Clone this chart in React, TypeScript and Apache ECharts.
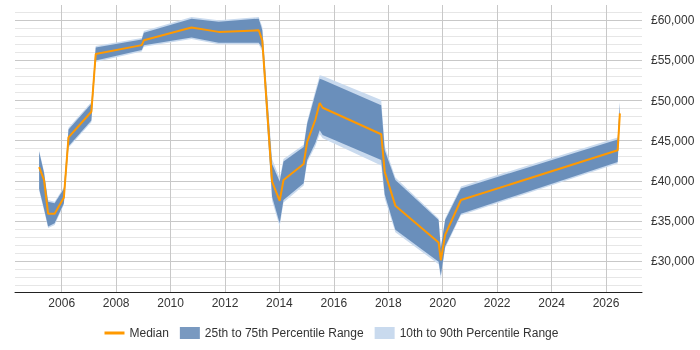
import React, { useEffect, useRef } from "react";
import * as echarts from "echarts";

// Sample points (decimal years) shared by the median line and the percentile bands
const years = [
  2005.17, 2005.35, 2005.5, 2005.74, 2006.08, 2006.25, 2007.09, 2007.25, 2008.94, 2009.02,
  2010.77, 2011.77, 2013.24, 2013.37, 2013.73, 2014.01, 2014.15, 2014.89, 2015.02, 2015.32,
  2015.48, 2015.59, 2017.74, 2017.87, 2018.26, 2019.85, 2019.93, 2020.09, 2020.67, 2026.43,
  2026.51,
];

const median = [
  41700, 40100, 35900, 35900, 37900, 45400, 48600, 55800, 56900, 57500,
  59100, 58550, 58750, 57500, 39900, 37500, 40100, 42100, 44850, 47600,
  49700, 49100, 45800, 41100, 36900, 32300, 30100, 33250, 37600, 43800,
  48400,
];

const p25 = [
  39000, 36500, 34300, 34700, 37200, 44300, 47500, 55000, 56300, 56900,
  57850, 57200, 57200, 56500, 38000, 34700, 37600, 39700, 42600, 44700,
  46300, 45700, 42600, 38300, 33900, 29900, 28200, 31800, 35900, 42350,
  48000,
];

const p75 = [
  43600, 41000, 37400, 37200, 39000, 46400, 49600, 56600, 57600, 58450,
  60200, 59800, 60200, 58800, 42100, 39900, 42400, 44200, 47100, 50800,
  52700, 52600, 49400, 43800, 40100, 35100, 31600, 35100, 39050, 45150,
  49700,
];

const p10 = [
  38800, 36300, 34100, 34500, 37000, 44100, 47300, 54800, 56100, 56700,
  57650, 57000, 57000, 56100, 37500, 34300, 37300, 39400, 42300, 44300,
  45800, 45300, 41900, 37800, 33600, 29600, 27800, 31600, 35700, 42150,
  47800,
];

const p90 = [
  43800, 41200, 37600, 37400, 39200, 46600, 49800, 56800, 57800, 58650,
  60400, 60000, 60400, 59200, 42700, 40300, 42700, 44500, 47400, 51200,
  53150, 53050, 50050, 44300, 40400, 35300, 31800, 35300, 39300, 45400,
  49900,
];

// Axis ticks
const xTickYears = [2006, 2008, 2010, 2012, 2014, 2016, 2018, 2020, 2022, 2024, 2026];
const yGridValues = [
  27000, 28000, 29000, 30000, 31000, 32000, 33000, 34000, 35000, 36000,
  37000, 38000, 39000, 40000, 41000, 42000, 43000, 44000, 45000, 46000,
  47000, 48000, 49000, 50000, 51000, 52000, 53000, 54000, 55000, 56000,
  57000, 58000, 59000, 60000, 61000,
];
const yLabelValues = [30000, 35000, 40000, 45000, 50000, 55000, 60000];

const MEDIAN_COLOR = "#ff9900";
const IQR_COLOR = "rgba(69,114,167,0.72)";
const OUTER_COLOR = "#c9daee";
const MINOR_GRID = "#e6e6e6";
const MAJOR_GRID = "#c8c8c8";

function bandSeries(name: string, lo: number[], hi: number[], color: string, z: number) {
  return {
    type: "custom",
    name,
    z,
    silent: true,
    itemStyle: { color },
    data: years.map((y, i) => [y, lo[i], hi[i]]),
    encode: { x: 0, y: [1, 2] },
    renderItem: (params: any, api: any) => {
      if (params.dataIndex !== 0) return null;
      const upper = years.map((y, i) => api.coord([y, hi[i]]));
      const lower = years.map((y, i) => api.coord([y, lo[i]])).reverse();
      return {
        type: "polygon",
        shape: { points: upper.concat(lower) },
        style: { fill: color },
      };
    },
  };
}

export default function App() {
  const ref = useRef<HTMLDivElement>(null);

  useEffect(() => {
    if (!ref.current) return;
    const chart = echarts.init(ref.current, undefined, { renderer: "svg" });
    chart.setOption({
      animation: false,
      textStyle: { fontFamily: "'Liberation Sans', Arial, sans-serif", fontSize: 12 },
      grid: { left: 15, right: 58, top: 5, bottom: 58, containLabel: false },
      legend: {
        left: 98,
        top: 322,
        itemWidth: 20,
        itemHeight: 12,
        itemGap: 11,
        textStyle: { color: "#333", fontSize: 12 },
        data: [
          { name: "Median", lineStyle: { width: 3 }, itemStyle: { opacity: 0 } },
          { name: "25th to 75th Percentile Range", icon: "rect" },
          { name: "10th to 90th Percentile Range", icon: "rect" },
        ],
      },
      xAxis: {
        type: "value",
        min: 2004.284,
        max: 2027.323,
        axisLine: { show: true, onZero: false, lineStyle: { color: "#222", width: 1 } },
        axisTick: { show: false, customValues: xTickYears },
        axisLabel: {
          customValues: xTickYears,
          margin: 5,
          color: "#333",
          fontSize: 12,
          formatter: (v: number) => String(Math.round(v)),
        },
        splitLine: { show: true, lineStyle: { color: MAJOR_GRID, width: 1 } },
      },
      yAxis: {
        type: "value",
        position: "right",
        min: 26140,
        max: 61900,
        axisLine: { show: false },
        axisTick: { show: false, customValues: yGridValues },
        axisLabel: {
          customValues: yLabelValues,
          margin: 9,
          color: "#333",
          fontSize: 12,
          formatter: (v: number) => "£" + v.toLocaleString("en-GB"),
        },
        splitLine: {
          show: true,
          lineStyle: {
            color: [MINOR_GRID, MINOR_GRID, MINOR_GRID, MAJOR_GRID, MINOR_GRID],
            width: 1,
          },
        },
      },
      series: [
        bandSeries("10th to 90th Percentile Range", p10, p90, OUTER_COLOR, 1),
        bandSeries("25th to 75th Percentile Range", p25, p75, IQR_COLOR, 2),
        {
          type: "line",
          name: "Median",
          z: 3,
          symbol: "none",
          showSymbol: false,
          silent: true,
          itemStyle: { color: MEDIAN_COLOR },
          lineStyle: { color: MEDIAN_COLOR, width: 2 },
          data: years.map((y, i) => [y, median[i]]),
        },
      ],
    });
    return () => chart.dispose();
  }, []);

  return (
    <div
      ref={ref}
      style={{ position: "fixed", left: 0, top: 0, width: 700, height: 350 }}
    />
  );
}
